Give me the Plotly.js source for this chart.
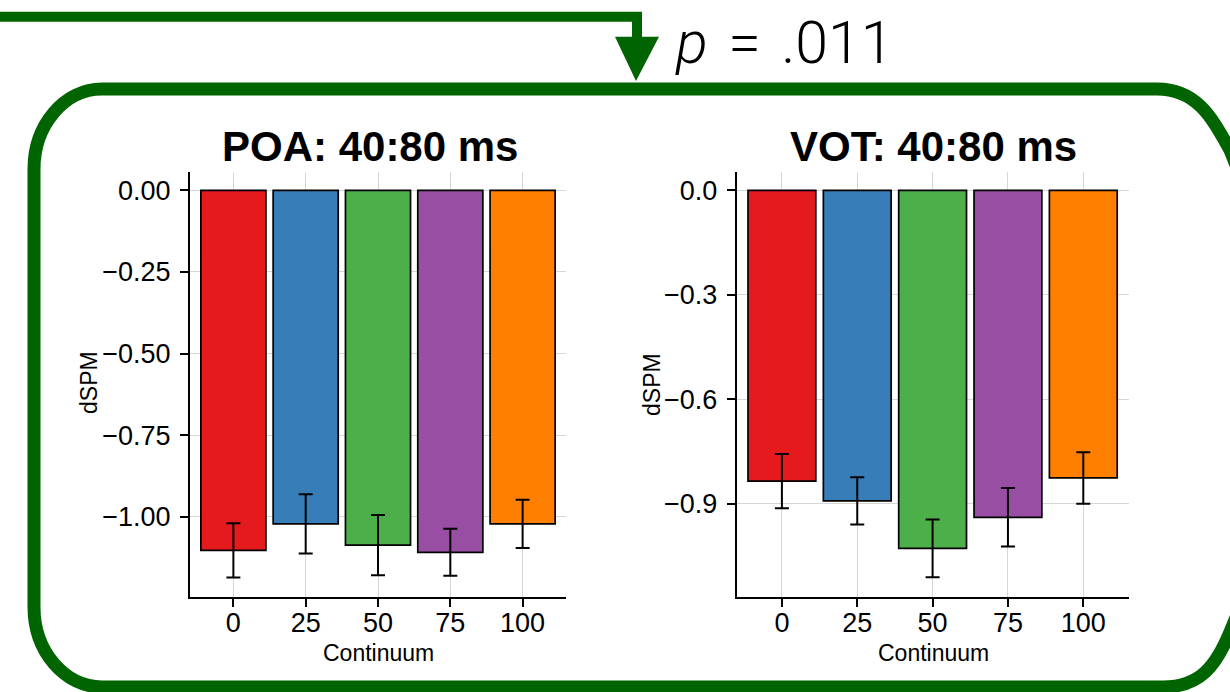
<!DOCTYPE html>
<html>
<head>
<meta charset="utf-8">
<script src="https://cdn.plot.ly/plotly-3.0.1.min.js"></script>
<style>html,body{margin:0;padding:0;background:#fff;overflow:hidden;}#chart{width:1230px;height:692px;}</style>
</head>
<body>
<div id="chart"></div>
<script>
// ---- data ----
const continuum = ["0", "25", "50", "75", "100"];
const poaMean = [-1.103, -1.022, -1.087, -1.109, -1.022];
const poaSE   = [0.083, 0.091, 0.092, 0.072, 0.074];
const votMean = [-0.835, -0.892, -1.028, -0.939, -0.826];
const votSE   = [0.078, 0.068, 0.083, 0.084, 0.074];
const barColors = ["#E41A1C", "#377EB8", "#4DAF4A", "#984EA3", "#FF7F00"];
const poaTicks = [0, -0.25, -0.5, -0.75, -1.0];
const votTicks = [0, -0.3, -0.6, -0.9];
const panelTitles = ["POA: 40:80 ms", "VOT: 40:80 ms"];
const pText = "<i>p</i>\u200A = \u200A.011";

// ---- layout helpers (pixel -> paper) ----
const W = 1230, H = 692;
const px = x => x / W;
const py = y => 1 - y / H;
function pathFrom(cmds) {
  return cmds.map(c => {
    const op = c[0];
    const pts = [];
    for (let i = 1; i < c.length; i += 2) pts.push(px(c[i]).toFixed(5) + "," + py(c[i + 1]).toFixed(5));
    return op + pts.join(" ");
  }).join(" ");
}
const font = "Liberation Sans, Arial, Helvetica, sans-serif";
const green = "#006400";

function barTrace(means, se, xa, ya) {
  return {
    type: "bar", x: continuum, y: means, xaxis: xa, yaxis: ya,
    marker: { color: barColors, line: { color: "black", width: 1.7 } },
    error_y: { type: "data", array: se, visible: true, color: "black", thickness: 2, width: 7 },
    hoverinfo: "x+y", showlegend: false
  };
}

const axisCommon = {
  showline: true, linecolor: "black", linewidth: 2,
  ticks: "outside", ticklen: 8, tickwidth: 2, tickcolor: "black",
  showgrid: true, gridcolor: "#d6d6d6", gridwidth: 1,
  zeroline: false, tickfont: { family: font, size: 27, color: "black" },
  fixedrange: true
};

const yTop = 171.7, yBot = 596.7;
const layout = {
  width: W, height: H,
  margin: { l: 0, r: 0, t: 0, b: 0 },
  paper_bgcolor: "white", plot_bgcolor: "white",
  bargap: 0.1, showlegend: false,
  xaxis: Object.assign({}, axisCommon, {
    domain: [px(190), px(566)], anchor: "y", type: "category", range: [-0.6, 4.6], ticklabelstandoff: -7
  }),
  yaxis: Object.assign({}, axisCommon, {
    domain: [py(yBot), py(yTop)], anchor: "x", range: [-1.245, 0.057],
    tickvals: poaTicks, tickformat: ".2f", ticklabelstandoff: 4
  }),
  xaxis2: Object.assign({}, axisCommon, {
    domain: [px(736.7), px(1128.5)], anchor: "y2", type: "category", range: [-0.6, 4.6], ticklabelstandoff: -7
  }),
  yaxis2: Object.assign({}, axisCommon, {
    domain: [py(yBot), py(yTop)], anchor: "x2", range: [-1.167, 0.0534],
    tickvals: votTicks, tickformat: ".1f", ticklabelstandoff: 4
  }),
  annotations: [
    { text: panelTitles[0], xref: "paper", yref: "paper", x: px(370), y: py(146), xanchor: "center", yanchor: "middle",
      showarrow: false, font: { family: font, size: 42, color: "black", weight: "bold" } },
    { text: panelTitles[1], xref: "paper", yref: "paper", x: px(933), y: py(146), xanchor: "center", yanchor: "middle",
      showarrow: false, font: { family: font, size: 42, color: "black", weight: "bold" } },
    { text: "dSPM", xref: "paper", yref: "paper", x: px(89), y: py(383), xanchor: "center", yanchor: "middle",
      textangle: -90, showarrow: false, font: { family: font, size: 23, color: "black" } },
    { text: "dSPM", xref: "paper", yref: "paper", x: px(652), y: py(384), xanchor: "center", yanchor: "middle",
      textangle: -90, showarrow: false, font: { family: font, size: 23, color: "black" } },
    { text: "Continuum", xref: "paper", yref: "paper", x: px(378), y: py(653), xanchor: "center", yanchor: "middle",
      showarrow: false, font: { family: font, size: 23, color: "black" } },
    { text: "Continuum", xref: "paper", yref: "paper", x: px(933), y: py(653), xanchor: "center", yanchor: "middle",
      showarrow: false, font: { family: font, size: 23, color: "black" } },
    { text: pText, xref: "paper", yref: "paper", x: px(673), y: py(43), xanchor: "left", yanchor: "middle",
      showarrow: false, font: { family: "Roboto, Liberation Sans, sans-serif", size: 59, color: "black", weight: 300 } }
  ],
  shapes: (function () {
    const L = 34, T = 89, B = 687;
    const rxL = 68, ry = 80, c = 0.5523;
    // open frame: right side runs off the picture
    const box = pathFrom([
      ["M", 1244, 185],
      ["L", 1230, 150],
      ["C", 1212, 118, 1197, T, 1157, T],
      ["L", L + rxL, T],
      ["C", L + rxL - c * rxL, T, L, T + ry - c * ry, L, T + ry],
      ["L", L, B - ry],
      ["C", L, B - ry + c * ry, L + rxL - c * rxL, B, L + rxL, B],
      ["L", 1163, B],
      ["C", 1200, B, 1216, 666, 1230, 632],
      ["L", 1244, 598]
    ]);
    const lead = pathFrom([["M", -5, 16.7], ["L", 637, 16.7], ["L", 637, 40]]);
    const head = pathFrom([["M", 615, 36.7], ["L", 659, 36.7], ["L", 636, 81]]) + " Z";
    return [
      { type: "path", xref: "paper", yref: "paper", path: box, line: { color: green, width: 13 }, fillcolor: "rgba(0,0,0,0)", layer: "below" },
      { type: "path", xref: "paper", yref: "paper", path: lead, line: { color: green, width: 10 }, layer: "above" },
      { type: "path", xref: "paper", yref: "paper", path: head, line: { width: 0 }, fillcolor: green, layer: "above" }
    ];
  })()
};

Plotly.newPlot("chart", [barTrace(poaMean, poaSE, "x", "y"), barTrace(votMean, votSE, "x2", "y2")], layout,
  { displayModeBar: false, staticPlot: true });
</script>
</body>
</html>
